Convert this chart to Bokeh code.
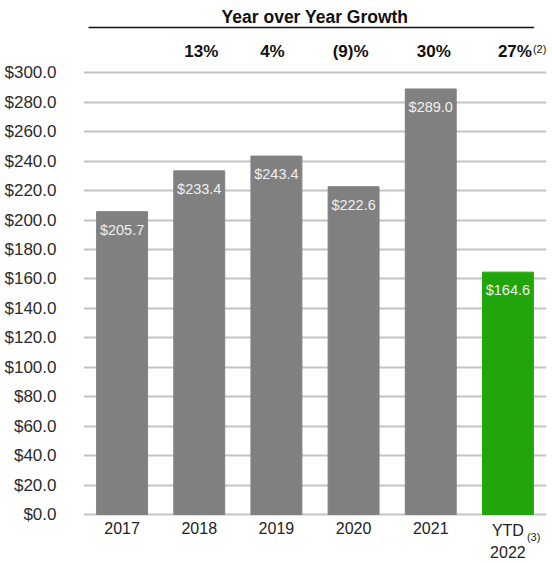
from bokeh.plotting import figure
from bokeh.models import ColumnDataSource, FixedTicker, NumeralTickFormatter, Range1d, FactorRange
from bokeh.transform import dodge
from bokeh.core.properties import value
from bokeh.embed import file_html
from bokeh.resources import INLINE

# ---- data ----
categories = ["2017", "2018", "2019", "2020", "2021", "YTD 2022"]
axis_labels = ["2017", "2018", "2019", "2020", "2021", "YTD\n2022"]
revenue = [205.7, 233.4, 243.4, 222.6, 289.0, 164.6]
growth_categories = ["2018", "2019", "2020", "2021", "YTD 2022"]
growth_labels = ["13%", "4%", "(9)%", "30%", "27%"]
y_ticks = [0, 20, 40, 60, 80, 100, 120, 140, 160, 180, 200, 220, 240, 260, 280, 300]

FONT = "Liberation Sans"
GRAY = "#808080"
GREEN = "#20a60b"
bar_colors = [GRAY] * 5 + [GREEN]

p = figure(width=552, height=563, x_range=FactorRange(*categories),
           y_range=Range1d(-33.3, 349.1), output_backend="svg",
           toolbar_location=None, x_axis_location=None,
           min_border_left=83, min_border_right=6, min_border_top=0, min_border_bottom=0)
p.outline_line_color = None
p.background_fill_color = "white"

# y axis
p.yaxis.ticker = FixedTicker(ticks=y_ticks)
p.yaxis.formatter = NumeralTickFormatter(format="$0.0")
p.yaxis.axis_line_color = None
p.yaxis.major_tick_line_color = None
p.yaxis.minor_tick_line_color = None
p.yaxis.major_label_standoff = 21
p.yaxis.major_label_text_font = FONT
p.yaxis.major_label_text_font_size = "17px"
p.yaxis.major_label_text_color = "#2b2b2b"
p.ygrid.ticker = FixedTicker(ticks=y_ticks)
p.ygrid.grid_line_color = "#c4c4c4"
p.ygrid.grid_line_width = 2
p.xgrid.grid_line_color = None

src = ColumnDataSource(dict(
    cat=categories, rev=revenue, color=bar_colors,
    lab=[f"${v:.1f}" for v in revenue], axlab=axis_labels,
))
p.vbar(x="cat", top="rev", width=0.66, color="color", source=src)

# value labels inside bars
p.text(x="cat", y="rev", text="lab", source=src, y_offset=18,
       text_align="center", text_baseline="middle",
       text_font=value(FONT), text_font_size="14.5px", text_color="#f0f0f0")

# category labels below baseline
p.text(x="cat", y=0, text="axlab", source=src, y_offset=8,
       text_align="center", text_baseline="top", text_line_height=1.25,
       text_font=value(FONT), text_font_size="16px", text_color="#222222")
p.text(x=[categories[-1]], y=[0], text=["(3)"], x_offset=19, y_offset=23,
       text_align="left", text_baseline="middle",
       text_font=value(FONT), text_font_size="11px", text_color="#222222")

# growth header
hsrc = ColumnDataSource(dict(x=["2020"], t=["Year over Year Growth"]))
p.text(x=dodge("x", -0.5, range=p.x_range), y=338.2, text="t", source=hsrc,
       text_align="center", text_baseline="middle", text_font_style="bold",
       text_font=value(FONT), text_font_size="17.5px", text_color="#111111")
seg = ColumnDataSource(dict(x0=[categories[0]], x1=[categories[-1]]))
p.segment(x0=dodge("x0", -0.435, range=p.x_range), x1=dodge("x1", 0.34, range=p.x_range),
          y0=330.7, y1=330.7, source=seg, line_color="#111111", line_width=1.5)

gsrc = ColumnDataSource(dict(x=growth_categories, t=growth_labels, dx=[2, -4, -3, 3, 7]))
p.text(x="x", y=314.4, text="t", x_offset="dx", source=gsrc,
       text_align="center", text_baseline="middle", text_font_style="bold",
       text_font=value(FONT), text_font_size="17px", text_color="#111111")
p.text(x=[categories[-1]], y=[316.2], text=["(2)"], x_offset=25,
       text_align="left", text_baseline="middle",
       text_font=value(FONT), text_font_size="11px", text_color="#111111")

open("out.html", "w").write(file_html(p, INLINE))
